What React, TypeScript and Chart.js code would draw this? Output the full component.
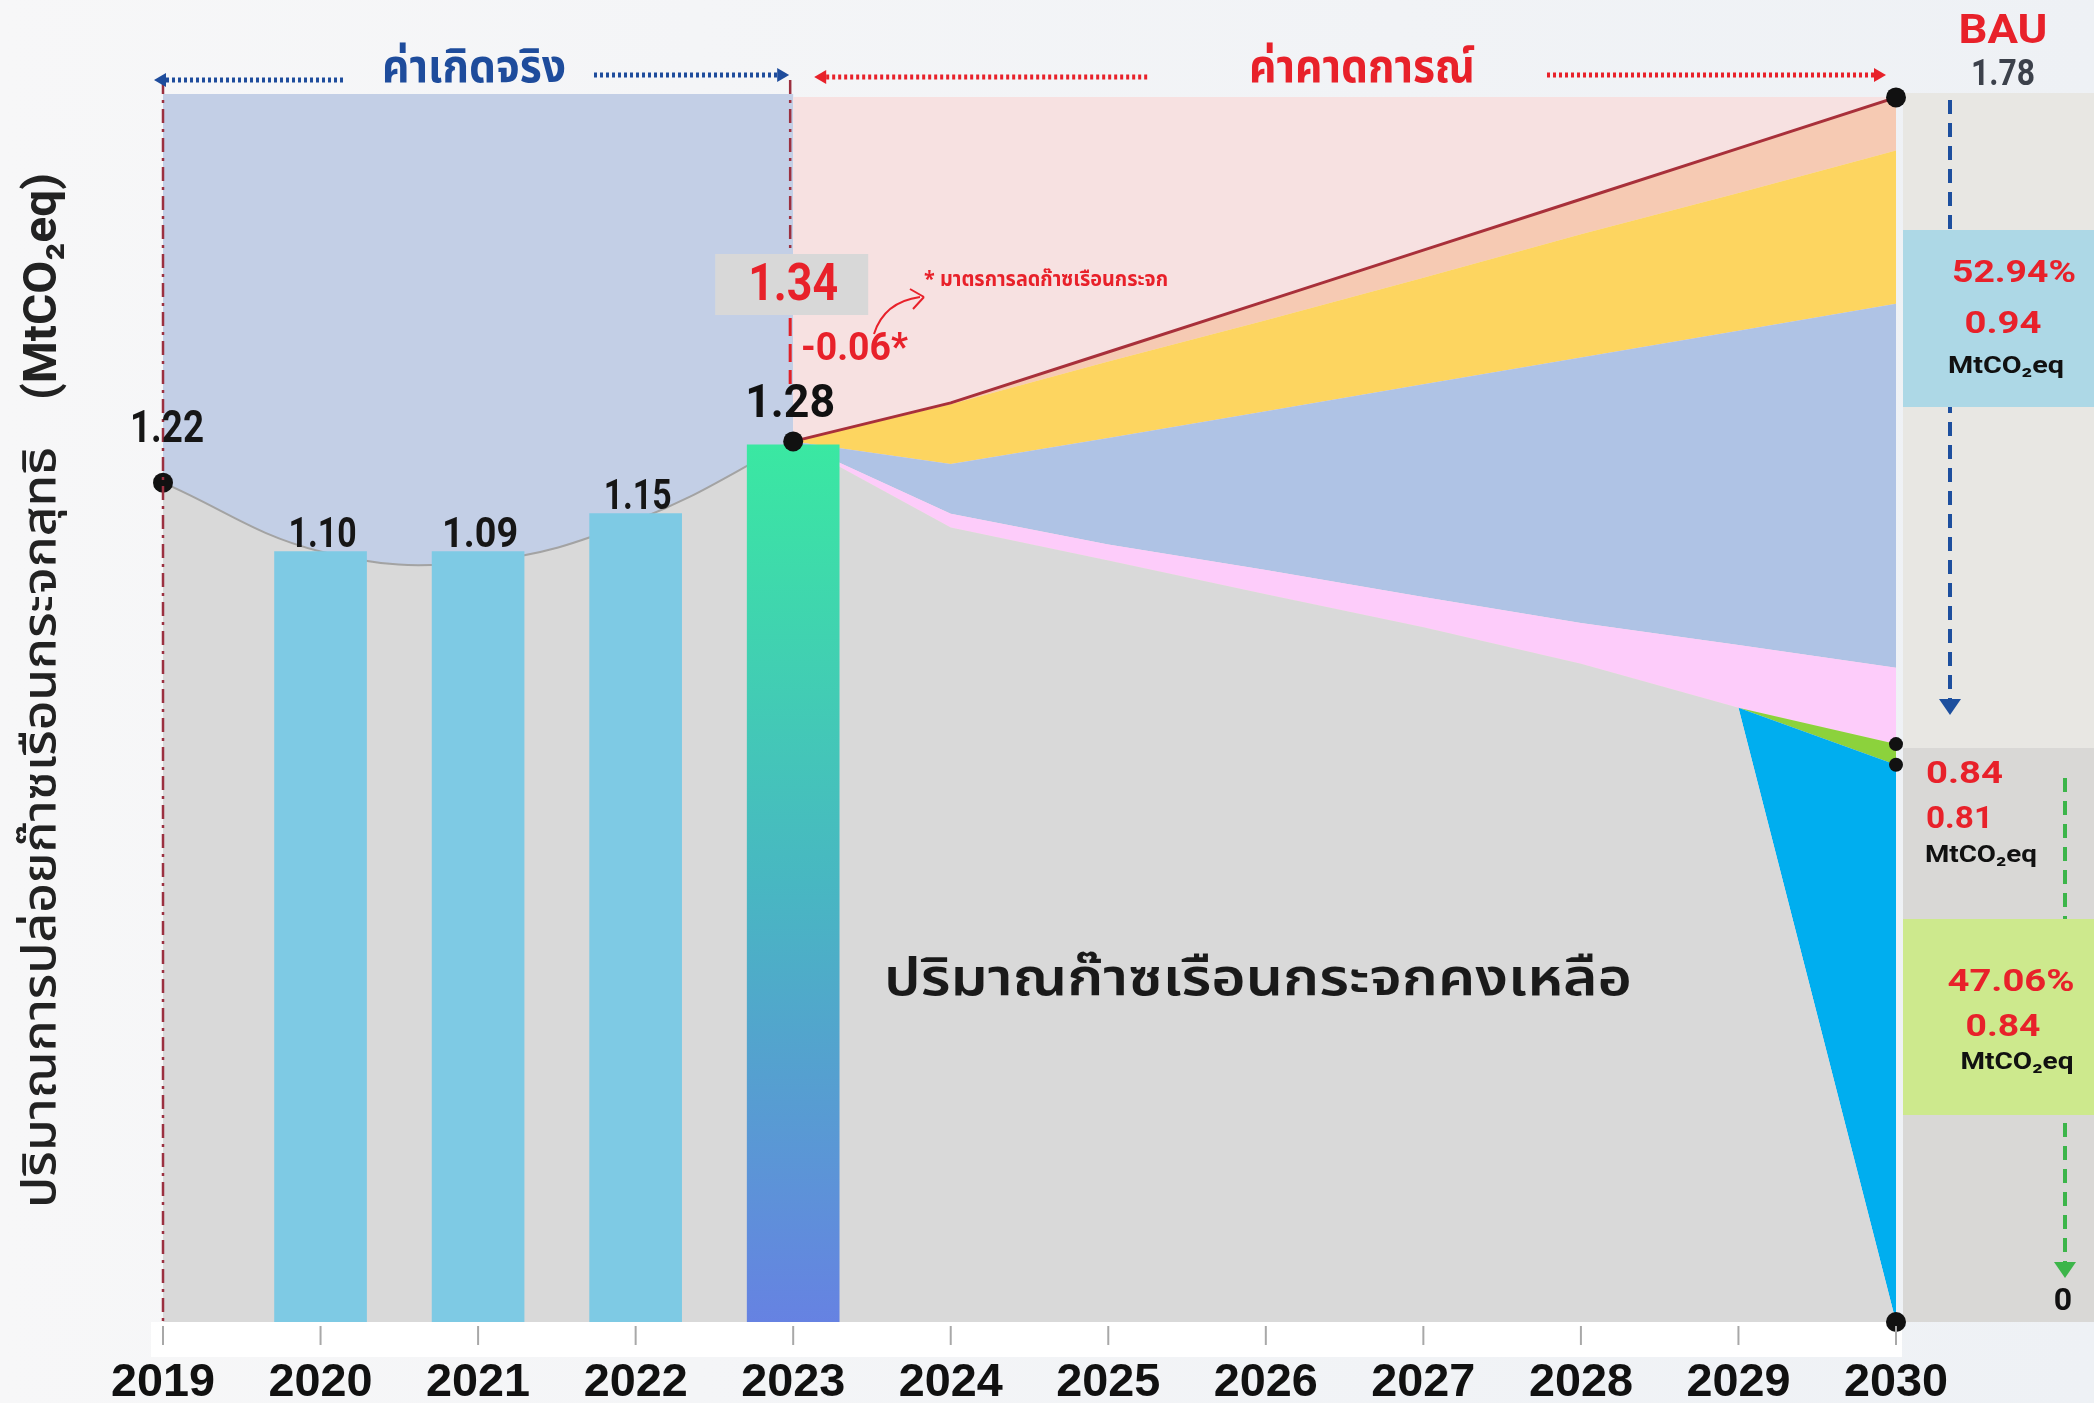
import React, { useEffect, useRef } from 'react';
import { Chart, registerables } from 'chart.js';

Chart.register(...registerables);

const W = 2094;
const H = 1403;

// ---------------- data ----------------
const xTickYears = [2019, 2020, 2021, 2022, 2023, 2024, 2025, 2026, 2027, 2028, 2029, 2030];

// actual (historic) net emission envelope
const histYears = [2019, 2020, 2021, 2022, 2023];
const histLevel = [1.22, 1.12, 1.105, 1.165, 1.28];

// bars
const barYears = [2020, 2021, 2022, 2023];
const barValues = [1.12, 1.12, 1.175, 1.275];
const barLabels = ['1.10', '1.09', '1.15'];

// forecast stacked boundaries (cumulative levels)
const fcYears = [2023, 2024, 2025, 2026, 2027, 2028, 2029, 2030];
const remaining = [1.28, 1.155, 1.107, 1.058, 1.01, 0.957, 0.893, 0];
const cyanTop = [1.28, 1.155, 1.107, 1.058, 1.01, 0.957, 0.893, 0.81];
const greenTop = [1.28, 1.155, 1.107, 1.058, 1.01, 0.957, 0.893, 0.84];
const pinkTop = [1.28, 1.175, 1.13, 1.093, 1.054, 1.016, 0.984, 0.951];
const blueTop = [1.28, 1.247, 1.285, 1.324, 1.363, 1.402, 1.441, 1.48];
const yellowTop = [1.28, 1.334, 1.396, 1.456, 1.518, 1.581, 1.641, 1.703];
const bau = [1.28, 1.336, 1.41, 1.484, 1.558, 1.632, 1.706, 1.78];

// marked points
const markerX = [2019, 2023, 2030, 2030, 2030, 2030];
const markerY = [1.22, 1.28, 1.78, 0.84, 0.81, 0];
const markerR = [10, 10, 10, 7, 7, 10];

// ---------------- styles ----------------
const THAI = "'Noto Sans Thai', 'Noto Sans Thai UI', 'Noto Looped Thai', Sarabun, Loma, Garuda, 'Noto Sans', sans-serif";
const NUM = "Roboto, 'Noto Sans', 'DejaVu Sans', sans-serif";
const RED = '#e8212a';
const BLUE_T = '#1e4c9c';

const pts = (xs: number[], ys: number[]) => xs.map((x, i) => ({ x, y: ys[i] }));

function drawText(
  ctx: CanvasRenderingContext2D,
  s: string,
  x: number,
  y: number,
  font: string,
  color: string,
  align: CanvasTextAlign = 'center',
  width?: number
) {
  ctx.save();
  ctx.font = font;
  ctx.fillStyle = color;
  ctx.textBaseline = 'middle';
  ctx.textAlign = align;
  ctx.translate(x, y);
  if (width) {
    const m = ctx.measureText(s).width;
    if (m > 0) ctx.scale(width / m, 1);
  }
  ctx.fillText(s, 0, 0);
  ctx.restore();
}

function dottedArrow(
  ctx: CanvasRenderingContext2D,
  x1: number,
  x2: number,
  y: number,
  color: string,
  head: 'left' | 'right'
) {
  ctx.save();
  ctx.strokeStyle = color;
  ctx.fillStyle = color;
  ctx.lineWidth = 5;
  ctx.setLineDash([3, 3]);
  ctx.beginPath();
  ctx.moveTo(x1, y);
  ctx.lineTo(x2, y);
  ctx.stroke();
  ctx.setLineDash([]);
  ctx.beginPath();
  if (head === 'left') {
    ctx.moveTo(x1 - 6, y);
    ctx.lineTo(x1 + 6, y - 7);
    ctx.lineTo(x1 + 6, y + 7);
  } else {
    ctx.moveTo(x2 + 6, y);
    ctx.lineTo(x2 - 6, y - 7);
    ctx.lineTo(x2 - 6, y + 7);
  }
  ctx.closePath();
  ctx.fill();
  ctx.restore();
}

function vDashArrow(ctx: CanvasRenderingContext2D, x: number, y1: number, y2: number, color: string, head: boolean) {
  ctx.save();
  ctx.strokeStyle = color;
  ctx.fillStyle = color;
  ctx.lineWidth = 4;
  ctx.setLineDash([14, 9]);
  ctx.beginPath();
  ctx.moveTo(x, y1);
  ctx.lineTo(x, y2);
  ctx.stroke();
  ctx.setLineDash([]);
  if (head) {
    ctx.beginPath();
    ctx.moveTo(x - 11, y2 - 4);
    ctx.lineTo(x + 11, y2 - 4);
    ctx.lineTo(x, y2 + 12);
    ctx.closePath();
    ctx.fill();
  }
  ctx.restore();
}

const bgPlugin = {
  id: 'bgPlugin',
  beforeDraw(chart: any) {
    const { ctx, chartArea: a, scales } = chart;
    const xs = (v: number) => scales.x.getPixelForValue(v);
    const ys = (v: number) => scales.y.getPixelForValue(v);
    ctx.save();
    const g = ctx.createLinearGradient(0, 0, W, 0);
    g.addColorStop(0, '#f7f7f8');
    g.addColorStop(1, '#eef1f5');
    ctx.fillStyle = g;
    ctx.fillRect(0, 0, W, H);
    ctx.fillStyle = '#c3cfe6';
    ctx.fillRect(xs(2019), a.top, xs(2023) - xs(2019), ys(0) - a.top);
    ctx.fillStyle = '#f7e1e1';
    ctx.fillRect(xs(2023), a.top + 3, xs(2030) - xs(2023), ys(0) - a.top - 3);
    ctx.fillStyle = '#ffffff';
    ctx.fillRect(xs(2019) - 12, a.bottom, xs(2030) - xs(2019) + 18, 35);
    const px = a.right + 7;
    ctx.fillStyle = '#e8e7e3';
    ctx.fillRect(px, a.top - 1, W - px, 748 - a.top + 1);
    ctx.fillStyle = '#d9d8d6';
    ctx.fillRect(px, 748, W - px, a.bottom - 748);
    ctx.restore();

    vDashArrow(ctx, 1950, 100, 703, '#1d4f9e', true);
    vDashArrow(ctx, 2065, 778, 1266, '#3cb54a', true);
    ctx.save();
    ctx.fillStyle = '#add8e6';
    ctx.fillRect(px, 230, W - px, 177);
    ctx.fillStyle = '#cde98d';
    ctx.fillRect(px, 919, W - px, 196);
    ctx.restore();
  },
};

const annotPlugin = {
  id: 'annotPlugin',
  afterDraw(chart: any) {
    const { ctx, chartArea: a, scales } = chart;
    const xs = (v: number) => scales.x.getPixelForValue(v);
    const ys = (v: number) => scales.y.getPixelForValue(v);

    ctx.save();
    ctx.strokeStyle = '#9b3040';
    ctx.lineWidth = 2.5;
    ctx.setLineDash([14, 6, 3, 6]);
    ctx.beginPath();
    ctx.moveTo(xs(2019), 80);
    ctx.lineTo(xs(2019), a.bottom);
    ctx.moveTo(xs(2023) - 3, 80);
    ctx.lineTo(xs(2023) - 3, 254);
    ctx.stroke();
    ctx.strokeStyle = '#e02028';
    ctx.lineWidth = 3;
    ctx.setLineDash([18, 8]);
    ctx.beginPath();
    ctx.moveTo(xs(2023) - 3, 318);
    ctx.lineTo(xs(2023) - 3, 384);
    ctx.stroke();
    ctx.restore();

    dottedArrow(ctx, xs(2019) - 3, 345, 80, BLUE_T, 'left');
    dottedArrow(ctx, 594, xs(2023) - 10, 75, BLUE_T, 'right');
    dottedArrow(ctx, xs(2023) + 27, 1149, 77, RED, 'left');
    dottedArrow(ctx, 1547, xs(2030) - 16, 75, RED, 'right');
    drawText(ctx, 'ค่าเกิดจริง', 474, 72, `bold 47px ${THAI}`, BLUE_T, 'center', 184);
    drawText(ctx, 'ค่าคาดการณ์', 1362, 72, `bold 47px ${THAI}`, RED, 'center', 226);

    ctx.save();
    ctx.fillStyle = '#d8d8d8';
    ctx.fillRect(xs(2023) - 78, 254, 153, 61);
    ctx.restore();
    drawText(ctx, '1.34', xs(2023), 287, `bold 52px ${NUM}`, RED, 'center', 90);
    drawText(ctx, '-0.06*', 801, 350, `bold 38px ${NUM}`, RED, 'left', 107);
    ctx.save();
    ctx.strokeStyle = RED;
    ctx.lineWidth = 2;
    ctx.beginPath();
    ctx.moveTo(874, 334);
    ctx.quadraticCurveTo(884, 302, 920, 297);
    ctx.stroke();
    ctx.beginPath();
    ctx.moveTo(924, 297);
    ctx.lineTo(910, 289);
    ctx.moveTo(924, 297);
    ctx.lineTo(913, 309);
    ctx.stroke();
    ctx.restore();
    drawText(ctx, '* มาตรการลดก๊าซเรือนกระจก', 924, 282, `bold 21px ${THAI}`, RED, 'left', 244);

    drawText(ctx, '1.22', xs(2019) + 4, ys(1.22) - 52, `bold 44px ${NUM}`, '#161616', 'center', 74);
    const lw = [68, 76, 68];
    barLabels.forEach((l, i) => {
      drawText(ctx, l, xs(barYears[i]) + 2, ys(barValues[i]) - 15, `bold 42px ${NUM}`, '#161616', 'center', lw[i]);
    });
    drawText(ctx, '1.28', xs(2023) - 3, ys(1.28) - 36, `bold 46px ${NUM}`, '#111111', 'center', 90);

    drawText(ctx, 'ปริมาณก๊าซเรือนกระจกคงเหลือ', 1258, 984, `600 52px ${THAI}`, '#1a1a1a', 'center', 748);

    drawText(ctx, 'BAU', 2003, 33, `bold 40px ${NUM}`, RED, 'center', 89);
    drawText(ctx, '1.78', 2003, 76, `bold 36px ${NUM}`, '#3c414b', 'center', 64);
    drawText(ctx, '52.94%', 2014, 274, `bold 32px ${NUM}`, RED, 'center', 124);
    drawText(ctx, '0.94', 2003, 325, `bold 32px ${NUM}`, RED, 'center', 77);
    drawText(ctx, 'MtCO₂eq', 2006, 367, `bold 24px ${NUM}`, '#111111', 'center', 116);
    drawText(ctx, '0.84', 1926, 775, `bold 32px ${NUM}`, RED, 'left', 77);
    drawText(ctx, '0.81', 1926, 820, `bold 32px ${NUM}`, RED, 'left', 67);
    drawText(ctx, 'MtCO₂eq', 1925, 856, `bold 24px ${NUM}`, '#111111', 'left', 112);
    drawText(ctx, '47.06%', 2011, 983, `bold 32px ${NUM}`, RED, 'center', 127);
    drawText(ctx, '0.84', 2003, 1028, `bold 32px ${NUM}`, RED, 'center', 75);
    drawText(ctx, 'MtCO₂eq', 2017, 1063, `bold 24px ${NUM}`, '#111111', 'center', 113);
    drawText(ctx, '0', 2063, 1302, `bold 32px ${NUM}`, '#111111', 'center');

    ctx.save();
    ctx.translate(46, 1208);
    ctx.rotate(-Math.PI / 2);
    drawText(ctx, 'ปริมาณการปล่อยก๊าซเรือนกระจกสุทธิ', 0, 0, `500 46px ${THAI}`, '#222222', 'left', 761);
    drawText(ctx, '(MtCO₂eq)', 808, -2, `bold 46px ${NUM}`, '#222222', 'left', 227);
    ctx.restore();

    ctx.save();
    ctx.strokeStyle = '#a8a8a8';
    ctx.lineWidth = 2;
    xTickYears.forEach((yr) => {
      const x = xs(yr);
      ctx.beginPath();
      ctx.moveTo(x, a.bottom + 4);
      ctx.lineTo(x, a.bottom + 23);
      ctx.stroke();
      drawText(ctx, String(yr), x, 1383, `bold 46px 'Liberation Sans Narrow', 'Liberation Sans', Arial, sans-serif`, '#111111', 'center', 104);
    });
    ctx.restore();
  },
};

export default function App() {
  const ref = useRef<HTMLCanvasElement | null>(null);

  useEffect(() => {
    if (!ref.current) return;
    const band = (data: number[], color: string) => ({
      type: 'line' as const,
      data: pts(fcYears, data),
      fill: '-1',
      backgroundColor: color,
      borderWidth: 0,
      borderColor: 'rgba(0,0,0,0)',
      pointRadius: 0,
      tension: 0,
      order: 3,
    });
    const chart = new Chart(ref.current, {
      type: 'line',
      data: {
        datasets: [
          {
            type: 'line',
            data: pts(histYears, histLevel),
            fill: 'origin',
            backgroundColor: '#d9d9d9',
            borderColor: '#a3a3a3',
            borderWidth: 2,
            pointRadius: 0,
            tension: 0.4,
            order: 3,
          },
          {
            type: 'line',
            data: pts(fcYears, remaining),
            fill: 'origin',
            backgroundColor: '#d9d9d9',
            borderWidth: 0,
            borderColor: 'rgba(0,0,0,0)',
            pointRadius: 0,
            tension: 0,
            order: 3,
          },
          band(cyanTop, '#00aeef'),
          band(greenTop, '#8cd23c'),
          band(pinkTop, '#fdccfa'),
          band(blueTop, '#afc3e5'),
          band(yellowTop, '#fdd560'),
          {
            ...band(bau, '#f6cab3'),
            borderWidth: 3,
            borderColor: '#a8303a',
          },
          {
            type: 'bar',
            data: pts(barYears, barValues),
            barThickness: 92,
            grouped: false,
            borderWidth: 0,
            order: 1,
            backgroundColor: (c: any) => {
              if (c.dataIndex !== 3) return '#7ecae4';
              const ch = c.chart;
              const ys = ch.scales && ch.scales.y;
              if (!ys || !ch.chartArea) return '#45c0b8';
              const g = ch.ctx.createLinearGradient(0, ys.getPixelForValue(barValues[3]), 0, ys.getPixelForValue(0));
              g.addColorStop(0, '#3ae8a2');
              g.addColorStop(0.5, '#48b7c2');
              g.addColorStop(1, '#6682e2');
              return g;
            },
          },
          {
            type: 'line',
            data: pts(markerX, markerY),
            showLine: false,
            fill: false,
            pointRadius: markerR,
            pointBackgroundColor: '#111111',
            pointBorderWidth: 0,
            clip: false,
            order: 0,
          },
        ] as any,
      },
      options: {
        responsive: false,
        animation: false,
        devicePixelRatio: 1,
        layout: { padding: { left: 163, right: 198, top: 94, bottom: 81 } },
        scales: {
          x: { type: 'linear', min: 2019, max: 2030, display: false, offset: false },
          y: { type: 'linear', min: 0, max: 1.785, display: false },
        },
        plugins: {
          legend: { display: false },
          tooltip: { enabled: false },
          filler: { drawTime: 'beforeDatasetsDraw' },
        } as any,
        events: [],
      },
      plugins: [bgPlugin, annotPlugin],
    } as any);
    return () => chart.destroy();
  }, []);

  return (
    <div style={{ position: 'fixed', left: 0, top: 0, width: W, height: H }}>
      <canvas ref={ref} width={W} height={H} style={{ width: W, height: H, display: 'block' }} />
    </div>
  );
}
